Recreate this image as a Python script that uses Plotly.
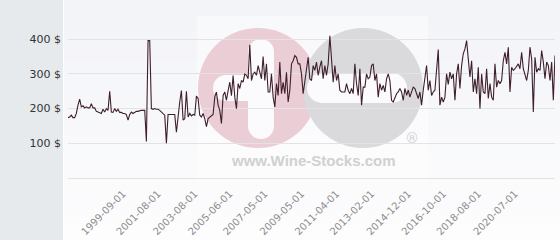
import plotly.graph_objects as go

# ---- data ----
prices = [
    174,176,181,174,174,186,210,227,205,208,
    202,205,202,202,214,202,202,192,190,189,
    186,198,190,200,195,250,190,189,200,192,
    198,189,189,186,186,183,167,183,190,186,
    190,192,192,194,195,195,195,105,396,396,
    200,198,200,198,198,195,190,183,181,100,
    183,183,183,183,183,132,183,219,252,167,
    171,250,176,186,179,183,181,236,229,181,
    176,186,171,148,171,176,181,183,233,248,
    210,195,157,238,248,224,252,276,237,295,
    233,200,272,258,281,276,300,296,286,384,
    281,300,305,296,324,300,286,350,281,329,
    248,248,300,233,205,272,238,334,243,276,
    243,305,219,253,329,338,353,348,329,329,
    300,243,281,310,348,286,281,324,310,334,
    296,320,338,286,324,296,329,410,329,276,
    324,281,300,253,248,248,
    248,272,253,243,258,243,329,272,238,315,
    210,262,262,300,286,291,324,329,281,300,
    233,272,253,267,248,286,300,281,224,219,
    233,243,248,258,248,224,258,238,253,233,
    248,262,258,243,229,248,210,253,286,324,
    253,281,238,248,253,305,370,210,233,219,
    233,300,270,
    305,286,300,224,300,329,258,324,358,372,
    396,329,291,338,248,286,243,319,200,300,
    248,243,315,229,272,233,224,329,262,281,
    272,281,338,362,329,377,248,319,310,315,
    324,329,315,362,315,300,281,310,377,343,
    190,348,305,315,310,367,334,286,334,324,
    281,334,224,353,
]
point_index = list(range(len(prices)))
tick_labels = ["1999-09-01", "2001-08-01", "2003-08-01", "2005-06-01",
               "2007-05-01", "2009-05-01", "2011-04-01", "2013-02-01",
               "2014-12-01", "2016-10-01", "2018-08-01", "2020-07-01"]
tick_points = [33, 54, 76, 97, 118, 140, 161, 182, 204, 225, 246, 268]
y_ticks = [100, 200, 300, 400]
y_tick_text = [f"{v} $" for v in y_ticks]

W, H = 560, 240
ML, MR, MT, MB = 68, 5, 0, 62
PW, PH = W - ML - MR, H - MT - MB


def px(x):
    return (x - ML) / PW


def py(y):
    return (H - MB - y) / PH


shapes = []
# background gradient for the chart area
n_bands = 16
for i in range(n_bands):
    t = i / (n_bands - 1)
    r = int(243 + (253 - 243) * t)
    g = int(244 + (253 - 244) * t)
    b = int(248 + (254 - 248) * t)
    y0 = H * i / n_bands
    y1 = H * (i + 1) / n_bands + 1
    shapes.append(dict(type="rect", xref="paper", yref="paper", layer="below",
                       x0=px(64), x1=px(W), y0=py(y1), y1=py(y0),
                       fillcolor=f"rgb({r},{g},{b})", line_width=0))
# left panel
shapes.append(dict(type="rect", xref="paper", yref="paper", layer="below",
                   x0=px(0), x1=px(63), y0=py(H), y1=py(0),
                   fillcolor="#e6eaed", line_width=0))
# watermark: faint white box
shapes.append(dict(type="rect", xref="paper", yref="paper", layer="below",
                   x0=px(197), x1=px(428), y0=py(182), y1=py(16),
                   fillcolor="rgba(255,255,255,0.45)", line_width=0))


def circle(cx, cy, r, color):
    return dict(type="circle", xref="paper", yref="paper", layer="below",
                x0=px(cx - r), x1=px(cx + r), y0=py(cy + r), y1=py(cy - r),
                fillcolor=color, line_width=0)


def rect(x0, x1, y0, y1, color):
    return dict(type="rect", xref="paper", yref="paper", layer="below",
                x0=px(x0), x1=px(x1), y0=py(y1), y1=py(y0),
                fillcolor=color, line_width=0)


pink = "#ebcdd5"
grey = "#dadadc"
white = "#fbfbfd"
shapes.append(circle(258, 88, 60, pink))
shapes.append(circle(363, 88, 60, grey))
# white marks inside the logo
shapes.append(rect(248, 274, 52, 126, white))
shapes.append(circle(261, 52, 13, white))
shapes.append(circle(261, 126, 13, white))
shapes.append(rect(226, 250, 75, 101, white))
shapes.append(circle(226, 88, 13, white))
shapes.append(rect(322, 392, 73, 103, white))
shapes.append(circle(322, 88, 15, white))
shapes.append(circle(392, 88, 15, white))

fig = go.Figure()
fig.add_trace(go.Scatter(
    x=point_index, y=prices, mode="lines",
    line=dict(color="#3e1f2b", width=1.1),
    hoverinfo="skip", showlegend=False,
))

fig.update_layout(
    width=W, height=H,
    margin=dict(l=ML, r=MR, t=MT, b=MB, pad=0),
    paper_bgcolor="white",
    plot_bgcolor="rgba(0,0,0,0)",
    shapes=shapes,
    annotations=[
        dict(text="<b>www.Wine-Stocks.com</b>", xref="paper", yref="paper",
             x=px(313), y=py(160), showarrow=False,
             font=dict(family="Liberation Sans", size=15, color="#d0d0d2"),
             xanchor="center", yanchor="middle"),
        dict(text="®", xref="paper", yref="paper",
             x=px(412), y=py(138), showarrow=False,
             font=dict(family="DejaVu Sans", size=14, color="#d0d0d2"),
             xanchor="center", yanchor="middle"),
    ],
    xaxis=dict(
        range=[0, len(prices) - 1],
        tickmode="array", tickvals=tick_points, ticktext=tick_labels,
        tickangle=-45, showgrid=False, zeroline=False,
        showline=True, linecolor="#e3e3e3", linewidth=1,
        ticks="outside", ticklen=5, tickcolor="rgba(0,0,0,0)",
        tickfont=dict(family="DejaVu Sans", size=10, color="#8c8c8c"),
    ),
    yaxis=dict(
        range=[0, 513],
        tickmode="array", tickvals=y_ticks, ticktext=y_tick_text,
        showgrid=True, gridcolor="#e3e3e6", gridwidth=1, zeroline=False,
        ticks="", ticklabelstandoff=6,
        tickfont=dict(family="DejaVu Sans", size=11, color="#333333"),
    ),
)

fig.write_html("out.html")
